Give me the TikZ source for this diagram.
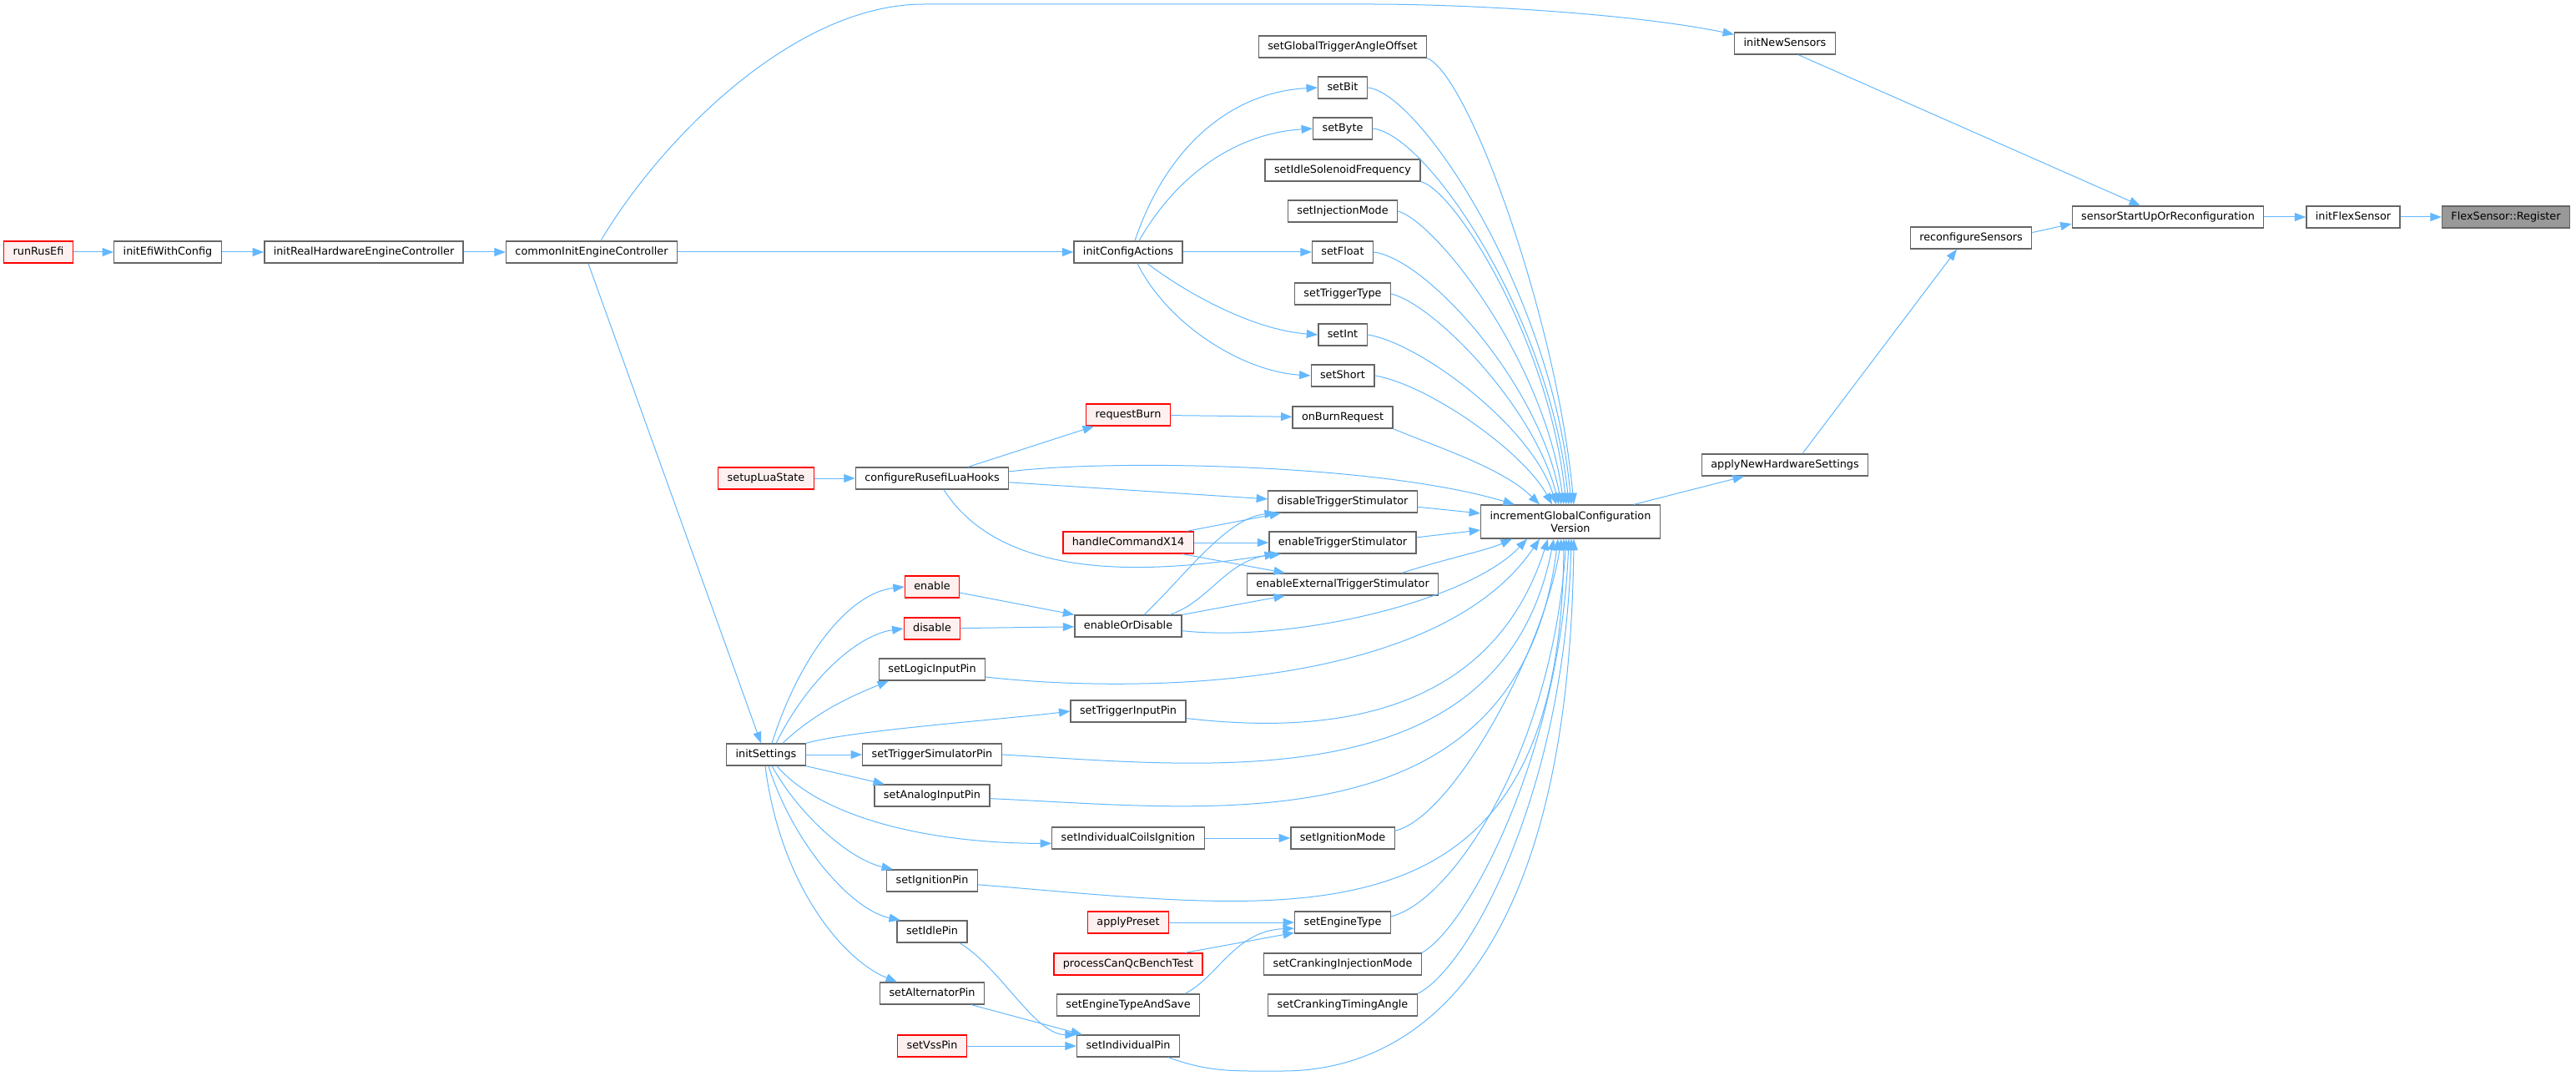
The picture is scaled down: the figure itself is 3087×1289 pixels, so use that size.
\documentclass[tikz,border=0pt]{standalone}
\usepackage{fontspec}
\setmainfont{DejaVu Sans}
\usetikzlibrary{arrows.meta}
\definecolor{edgeblue}{HTML}{63B8FF}
\definecolor{boxgrey}{HTML}{666666}
\definecolor{redfill}{HTML}{FFF0F0}
\definecolor{rootgrey}{HTML}{999999}
\begin{document}
\begin{tikzpicture}[x=1pt,y=1pt,
    fn/.style={draw=boxgrey,line width=1.3pt,fill=white,
        font={\fontsize{12.8pt}{15.5pt}\selectfont},
        inner xsep=10.9pt,inner ysep=0pt,minimum height=26pt,
        text height=9.7pt,text depth=3pt},
    redfn/.style={fn,draw=red,fill=redfill},
    rootfn/.style={fn,fill=rootgrey},
    call/.style={draw=edgeblue,line width=1pt,-{Triangle[length=13.5pt,width=10pt]}}]
\useasboundingbox (0,0) rectangle (3087,-1289);

\node [redfn]  (runrusefi)      at (  46,-302) {runRusEfi};
\node [fn]     (initeficonfig)  at ( 201,-302) {initEfiWithConfig};
\node [fn]     (initrealhw)     at ( 436,-302) {initRealHardwareEngineController};
\node [fn]     (commoninit)     at ( 709,-302) {commonInitEngineController};
\node [redfn]  (setupluastate)  at ( 918,-573) {setupLuaState};
\node [fn]     (initsettings)   at ( 918,-904) {initSettings};

\node [fn]     (configurelua)   at (1117,-573) {configureRusefiLuaHooks};
\node [redfn]  (enable)         at (1117,-703) {enable};
\node [redfn]  (disable)        at (1117,-753) {disable};
\node [fn]     (setlogic)       at (1117,-802) {setLogicInputPin};
\node [fn]     (settriggersim)  at (1117,-904) {setTriggerSimulatorPin};
\node [fn]     (setanalog)      at (1117,-953) {setAnalogInputPin};
\node [fn]     (setignitionpin) at (1117,-1055) {setIgnitionPin};
\node [fn]     (setidlepin)     at (1117,-1116) {setIdlePin};
\node [fn]     (setalternator)  at (1117,-1190) {setAlternatorPin};
\node [redfn]  (setvsspin)      at (1117,-1253) {setVssPin};

\node [fn]     (initconfig)     at (1352,-302) {initConfigActions};
\node [redfn]  (requestburn)    at (1352,-497) {requestBurn};
\node [redfn]  (handlecmd)      at (1352,-650) {handleCommandX14};
\node [fn]     (enableordisable) at (1352,-750) {enableOrDisable};
\node [fn]     (settriggerinput) at (1352,-852) {setTriggerInputPin};
\node [fn]     (setcoils)       at (1352,-1004) {setIndividualCoilsIgnition};
\node [redfn]  (applypreset)    at (1352,-1105) {applyPreset};
\node [redfn]  (processcanqc)   at (1352,-1155) {processCanQcBenchTest};
\node [fn]     (setenginesave)  at (1352,-1204) {setEngineTypeAndSave};
\node [fn]     (setindividualpin) at (1352,-1253) {setIndividualPin};

\node [fn]     (setglobal)      at (1609,-56)  {setGlobalTriggerAngleOffset};
\node [fn]     (setbit)         at (1609,-105) {setBit};
\node [fn]     (setbyte)        at (1609,-154) {setByte};
\node [fn]     (setidlesolenoid) at (1609,-204) {setIdleSolenoidFrequency};
\node [fn]     (setinjection)   at (1609,-253) {setInjectionMode};
\node [fn]     (setfloat)       at (1609,-302) {setFloat};
\node [fn]     (settriggertype) at (1609,-352) {setTriggerType};
\node [fn]     (setint)         at (1609,-401) {setInt};
\node [fn]     (setshort)       at (1609,-450) {setShort};
\node [fn]     (onburnrequest)  at (1609,-500) {onBurnRequest};
\node [fn]     (disabletrigger) at (1609,-601) {disableTriggerStimulator};
\node [fn]     (enabletrigger)  at (1609,-650) {enableTriggerStimulator};
\node [fn]     (enableexttrigger) at (1609,-700) {enableExternalTriggerStimulator};
\node [fn]     (setignitionmode) at (1609,-1004) {setIgnitionMode};
\node [fn]     (setenginetype)  at (1609,-1105) {setEngineType};
\node [fn]     (setcrankinginj) at (1609,-1155) {setCrankingInjectionMode};
\node [fn]     (setcrankingtiming) at (1609,-1204) {setCrankingTimingAngle};

\node [fn,align=center,text height=,text depth=,minimum height=40pt]
               (incglobal)      at (1882,-625) {incrementGlobalConfiguration\\Version};
\node [fn]     (initnewsensors) at (2139,-52)  {initNewSensors};
\node [fn]     (applynew)       at (2139,-557) {applyNewHardwareSettings};
\node [fn]     (reconfiguresensors) at (2362,-285) {reconfigureSensors};
\node [fn]     (sensorstartup)  at (2598,-260) {sensorStartUpOrReconfiguration};
\node [fn]     (initflexsensor) at (2820,-260) {initFlexSensor};
\node [rootfn] (flexregister)   at (3003,-260) {FlexSensor::Register};

\draw [call] (runrusefi) -- (initeficonfig);
\draw [call] (initeficonfig) -- (initrealhw);
\draw [call] (initrealhw) -- (commoninit);
\draw [call] (commoninit) -- (initconfig);
\draw [call] ([xshift=11pt]commoninit.north) .. controls (790,-170) and (950,-5) .. (1107,-5)
    -- (1643,-5) .. controls (1750,-5) and (1950,-15) .. (initnewsensors.170);
\draw [call] ([xshift=-4pt]commoninit.south) -- ([xshift=-6pt]initsettings.north);

\draw [call] ([xshift=8pt]initconfig.north) .. controls (1400,-170) and (1480,-110) .. (setbit.west);
\draw [call] ([xshift=13pt]initconfig.north) .. controls (1410,-210) and (1480,-160) .. (setbyte.west);
\draw [call] (initconfig) -- (setfloat);
\draw [call] ([xshift=23pt]initconfig.south) .. controls (1420,-350) and (1500,-395) .. (setint.west);
\draw [call] ([xshift=11pt]initconfig.south) .. controls (1400,-390) and (1490,-445) .. (setshort.west);

\draw [call] (setglobal.south east) .. controls (1760,-90) and (1865,-380) .. ([xshift=4pt]incglobal.north);
\draw [call] (setbit.east) .. controls (1700,-110) and (1860,-350) .. ([xshift=1pt]incglobal.north);
\draw [call] (setbyte.east) .. controls (1710,-160) and (1858,-380) .. ([xshift=-2pt]incglobal.north);
\draw [call] (setidlesolenoid.south east) .. controls (1740,-225) and (1855,-400) .. ([xshift=-5pt]incglobal.north);
\draw [call] (setinjection.east) .. controls (1720,-265) and (1850,-430) .. ([xshift=-8pt]incglobal.north);
\draw [call] (setfloat.east) .. controls (1710,-310) and (1845,-460) .. ([xshift=-11pt]incglobal.north);
\draw [call] (settriggertype.east) .. controls (1720,-365) and (1840,-490) .. ([xshift=-14pt]incglobal.north);
\draw [call] (setint.east) .. controls (1700,-410) and (1835,-510) .. ([xshift=-17pt]incglobal.north);
\draw [call] (setshort.east) .. controls (1710,-460) and (1825,-540) .. ([xshift=-22pt]incglobal.north);
\draw [call] (onburnrequest.south east) .. controls (1720,-535) and (1800,-560) .. ([xshift=-37pt]incglobal.north);
\draw [call] (configurelua.5) .. controls (1330,-550) and (1650,-555) .. ([xshift=-67pt]incglobal.north);
\draw [call] (disabletrigger.-4) -- ([yshift=10pt]incglobal.west);
\draw [call] (enabletrigger.4) -- ([yshift=-10pt]incglobal.west);
\draw [call] ([xshift=71pt]enableexttrigger.north) .. controls (1730,-670) and (1780,-660) .. ([xshift=-70pt]incglobal.south);
\draw [call] (enableordisable.-5) .. controls (1550,-770) and (1760,-720) .. ([xshift=-52pt]incglobal.south);
\draw [call] (setlogic.-8) .. controls (1350,-830) and (1720,-830) .. ([xshift=-37pt]incglobal.south);
\draw [call] (settriggerinput.-7) .. controls (1550,-875) and (1780,-880) .. ([xshift=-27pt]incglobal.south);
\draw [call] (settriggersim.east) .. controls (1450,-918) and (1800,-960) .. ([xshift=-20pt]incglobal.south);
\draw [call] (setanalog.-3) .. controls (1450,-968) and (1820,-1020) .. ([xshift=-15pt]incglobal.south);
\draw [call] (setignitionmode.8) .. controls (1740,-980) and (1850,-780) .. ([xshift=-11pt]incglobal.south);
\draw [call] (setignitionpin.-5) .. controls (1550,-1090) and (1870,-1150) .. ([xshift=-8pt]incglobal.south);
\draw [call] (setenginetype.7) .. controls (1740,-1080) and (1860,-900) .. ([xshift=-5pt]incglobal.south);
\draw [call] (setcrankinginj.north east) .. controls (1760,-1110) and (1870,-900) .. ([xshift=-2pt]incglobal.south);
\draw [call] (setcrankingtiming.north east) .. controls (1760,-1160) and (1875,-950) .. ([xshift=1pt]incglobal.south);
\draw [call] ([xshift=48pt]setindividualpin.south) .. controls (1450,-1285) and (1480,-1283) .. (1537,-1283)
    .. controls (1700,-1283) and (1880,-1150) .. ([xshift=4pt]incglobal.south);

\draw [call] (setupluastate) -- (configurelua);
\draw [call] ([xshift=43pt]configurelua.north) -- ([xshift=-41pt]requestburn.south);
\draw [call] (configurelua.-3) -- (disabletrigger.178);
\draw [call] ([xshift=14pt]configurelua.south) .. controls (1210,-710) and (1420,-680) .. ([xshift=-80pt]enabletrigger.south);
\draw [call] (requestburn) -- (onburnrequest);

\draw [call] ([xshift=70pt]handlecmd.north) -- ([xshift=-74pt]disabletrigger.south);
\draw [call] (handlecmd) -- (enabletrigger);
\draw [call] ([xshift=65pt]handlecmd.south) -- ([xshift=-69pt]enableexttrigger.north);
\draw [call] ([xshift=19pt]enableordisable.north) .. controls (1420,-690) and (1470,-620) .. ([xshift=-80pt]disabletrigger.south);
\draw [call] ([xshift=50pt]enableordisable.north) .. controls (1450,-720) and (1470,-670) .. ([xshift=-74pt]enabletrigger.south);
\draw [call] ([xshift=65pt]enableordisable.north) -- ([xshift=-69pt]enableexttrigger.south);
\draw [call] (enable.-12) -- (enableordisable.north west);
\draw [call] (disable) -- (enableordisable);

\draw [call] ([xshift=7pt]initsettings.north) .. controls (960,-780) and (1020,-710) .. (enable.west);
\draw [call] ([xshift=12pt]initsettings.north) .. controls (970,-810) and (1030,-760) .. (disable.west);
\draw [call] ([xshift=20pt]initsettings.north) .. controls (980,-850) and (1030,-830) .. ([xshift=-52pt]setlogic.south);
\draw [call] (initsettings.north east) .. controls (1020,-875) and (1200,-862) .. (settriggerinput.west);
\draw [call] (initsettings) -- (settriggersim);
\draw [call] (initsettings.south east) -- ([xshift=-57pt]setanalog.north);
\draw [call] ([xshift=13pt]initsettings.south) .. controls (980,-975) and (1100,-1010) .. (setcoils.184);
\draw [call] ([xshift=7pt]initsettings.south) .. controls (960,-980) and (1020,-1030) .. ([xshift=-47pt]setignitionpin.north);
\draw [call] ([xshift=3pt]initsettings.south) .. controls (950,-1010) and (1020,-1090) .. ([xshift=-38pt]setidlepin.north);
\draw [call] ([xshift=-1pt]initsettings.south) .. controls (935,-1060) and (1010,-1150) .. ([xshift=-42pt]setalternator.north);

\draw [call] (setcoils) -- (setignitionmode);
\draw [call] (applypreset) -- (setenginetype);
\draw [call] ([xshift=68pt]processcanqc.north) -- (setenginetype.192);
\draw [call] ([xshift=68pt]setenginesave.north) .. controls (1460,-1170) and (1480,-1115) .. (setenginetype.187);
\draw [call] ([xshift=33pt]setidlepin.south) .. controls (1200,-1160) and (1240,-1240) .. (setindividualpin.north west);
\draw [call] ([xshift=47pt]setalternator.south) -- ([xshift=-55pt]setindividualpin.north);
\draw [call] (setvsspin) -- (setindividualpin);

\draw [call] ([xshift=76pt]incglobal.north) -- ([xshift=-49pt]applynew.south);
\draw [call] ([xshift=21pt]applynew.north) -- ([xshift=-17pt]reconfiguresensors.south);
\draw [call] (reconfiguresensors.5) -- (sensorstartup.184);
\draw [call] ([xshift=16pt]initnewsensors.south) -- ([xshift=-33pt]sensorstartup.north);
\draw [call] (sensorstartup) -- (initflexsensor);
\draw [call] (initflexsensor) -- (flexregister);
\end{tikzpicture}
\end{document}
